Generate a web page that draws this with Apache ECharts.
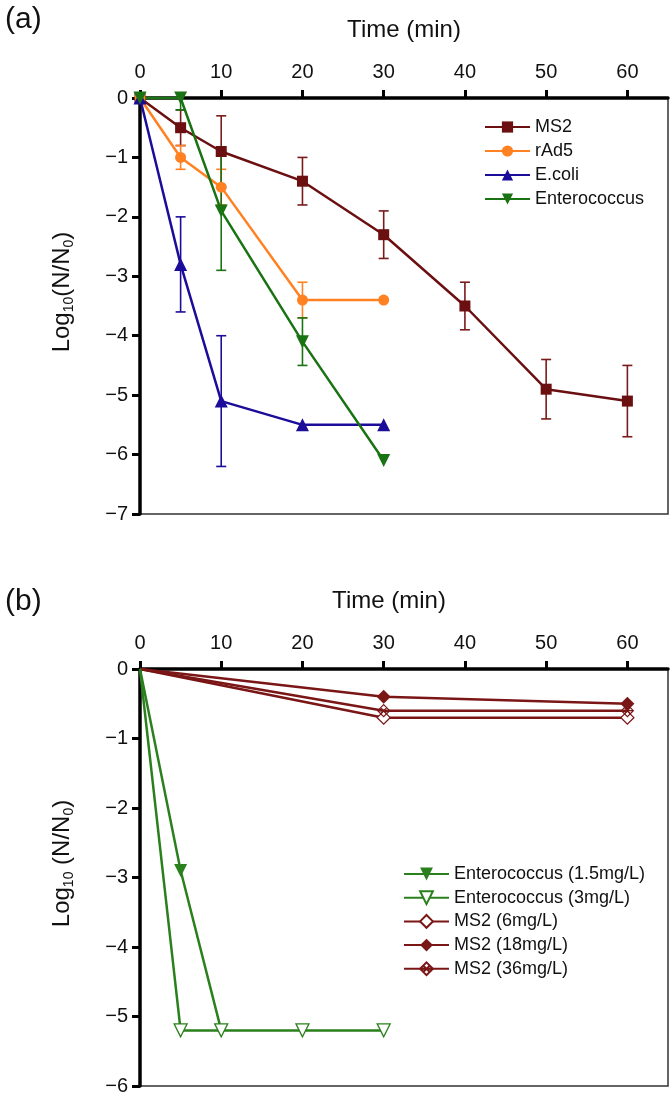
<!DOCTYPE html>
<html>
<head>
<meta charset="utf-8">
<script src="https://cdn.jsdelivr.net/npm/echarts@6/dist/echarts.min.js"></script>
<style>
html,body{margin:0;padding:0;background:#fff;}
#chart{width:672px;height:1096px;}
</style>
</head>
<body>
<div id="chart"></div>
<script>
// ---------- axis ticks ----------
const xTicks = [0, 10, 20, 30, 40, 50, 60];
const yTicksA = [0, -1, -2, -3, -4, -5, -6, -7];
const yTicksB = [0, -1, -2, -3, -4, -5, -6];

// ---------- Panel (a) data ----------
const ms2Time = [0, 5, 10, 20, 30, 40, 50, 60];
const ms2Log  = [0, -0.5, -0.9, -1.4, -2.3, -3.5, -4.9, -5.1];
const ms2Err  = [0, 0.3, 0.6, 0.4, 0.4, 0.4, 0.5, 0.6];

const rad5Time = [0, 5, 10, 20, 30];
const rad5Log  = [0, -1.0, -1.5, -3.4, -3.4];
const rad5Err  = [0, 0.2, 0.3, 0.3, 0];

const ecoliTime = [0, 5, 10, 20, 30];
const ecoliLog  = [0, -2.8, -5.1, -5.5, -5.5];
const ecoliErr  = [0, 0.8, 1.1, 0, 0];

const entTime = [0, 5, 10, 20, 30];
const entLog  = [0, 0, -1.9, -4.1, -6.1];
const entErr  = [0, 0.2, 1.0, 0.4, 0];

// ---------- Panel (b) data ----------
const ent15Time = [0, 5, 10];
const ent15Log  = [0, -2.9, -5.2];
const ent3Time  = [0, 5, 10, 20, 30];
const ent3Log   = [0, -5.2, -5.2, -5.2, -5.2];
const ms2bTime  = [0, 30, 60];
const ms2_6Log  = [0, -0.7, -0.7];
const ms2_18Log = [0, -0.4, -0.5];
const ms2_36Log = [0, -0.6, -0.6];

const namesA = ['MS2', 'rAd5', 'E.coli', 'Enterococcus'];
const namesB = ['Enterococcus (1.5mg/L)', 'Enterococcus (3mg/L)', 'MS2 (6mg/L)', 'MS2 (18mg/L)', 'MS2 (36mg/L)'];

// ---------- styling ----------
const FONT = '"Liberation Sans", Arial, sans-serif';
const C_MS2 = '#6b0f10';
const C_RAD = '#ff8122';
const C_ECO = '#1c0c9a';
const C_ENT = '#1a7312';
const C_GB = '#2a801c';
const C_RB = '#7b1616';

function pts(t, v, hideZero) {
  return t.map((x, i) => (hideZero && x === 0) ? { value: [x, v[i]], symbol: 'none' } : [x, v[i]]);
}
function errPts(t, v, e) { return t.map((x, i) => [x, v[i], e[i]]).filter(d => d[2] > 0); }

function lineSeries(name, t, v, color, symbol, size, extra, gi) {
  return Object.assign({
    name: name, type: 'line', xAxisIndex: gi, yAxisIndex: gi,
    data: pts(t, v, gi === 1), symbol: symbol, symbolSize: size, showAllSymbol: true,
    clip: false, z: 5,
    lineStyle: { color: color, width: 2.5 },
    itemStyle: { color: color, borderColor: color, borderWidth: 0 },
    emphasis: { disabled: true }, animation: false
  }, extra || {});
}

function errSeries(name, t, v, e, color, gi) {
  return {
    name: name, type: 'custom', xAxisIndex: gi, yAxisIndex: gi,
    data: errPts(t, v, e), encode: { x: 0, y: 1 }, clip: true, z: 4,
    silent: true, animation: false,
    renderItem: function (params, api) {
      const x = api.value(0), y = api.value(1), er = api.value(2);
      const p1 = api.coord([x, y + er]);
      const p2 = api.coord([x, y - er]);
      const w = 5;
      const st = { stroke: color, lineWidth: 1.6, fill: null };
      return {
        type: 'group', children: [
          { type: 'line', shape: { x1: p1[0], y1: p1[1], x2: p2[0], y2: p2[1] }, style: st },
          { type: 'line', shape: { x1: p1[0] - w, y1: p1[1], x2: p1[0] + w, y2: p1[1] }, style: st },
          { type: 'line', shape: { x1: p2[0] - w, y1: p2[1], x2: p2[0] + w, y2: p2[1] }, style: st }
        ]
      };
    }
  };
}

function minusFmt(v) { return v < 0 ? '\u2212' + Math.abs(v) : String(v); }

const xAxisBase = {
  type: 'value', position: 'top', min: 0, max: 65, interval: 10,
  name: 'Time (min)', nameLocation: 'middle', nameGap: 56,
  nameTextStyle: { fontFamily: FONT, fontSize: 24, color: '#111' },
  axisLine: { show: true, lineStyle: { color: '#000', width: 3.5 } },
  axisTick: { show: true, length: 8, lineStyle: { color: '#000', width: 3 }, customValues: xTicks },
  axisLabel: { fontFamily: FONT, fontSize: 20, color: '#111', margin: 16, customValues: xTicks },
  splitLine: { show: false }
};

const yRich = {
  m: { fontFamily: FONT, fontSize: 24, color: '#111' },
  s: { fontFamily: FONT, fontSize: 14, color: '#111', padding: [14, 0, 0, 0] }
};

function yAxis(gi, min, ticks, name, pad) {
  return {
    type: 'value', gridIndex: gi, min: min, max: 0, interval: 1,
    name: name, nameLocation: 'middle', nameGap: 64, nameRotate: 90,
    nameTextStyle: { fontFamily: FONT, fontSize: 24, color: '#111', rich: yRich, padding: pad },
    axisLine: { show: true, onZero: false, lineStyle: { color: '#000', width: 3.5 } },
    axisTick: { show: true, length: 8, lineStyle: { color: '#000', width: 3 }, customValues: ticks },
    axisLabel: { fontFamily: FONT, fontSize: 20, color: '#111', margin: 12, customValues: ticks, formatter: minusFmt },
    splitLine: { show: false }
  };
}

// Crossed diamond symbol for MS2 (36mg/L)
const xDiamond = 'path://M5,0 L10,5 L5,10 L0,5 Z M2.5,2.5 L7.5,7.5 M7.5,2.5 L2.5,7.5 M0,5 L10,5';

const option = {
  backgroundColor: '#fff',
  animation: false,
  title: [
    { text: '(a)', left: 0, top: 0, textStyle: { fontFamily: FONT, fontSize: 30, fontWeight: 'normal', color: '#111' } },
    { text: '(b)', left: 0, top: 582, textStyle: { fontFamily: FONT, fontSize: 30, fontWeight: 'normal', color: '#111' } }
  ],
  grid: [
    { left: 140, top: 98, width: 528, height: 416, show: true, borderColor: '#333', borderWidth: 1.5, backgroundColor: 'transparent' },
    { left: 140, top: 669, width: 528, height: 418, show: true, borderColor: '#333', borderWidth: 1.5, backgroundColor: 'transparent' }
  ],
  xAxis: [
    Object.assign({}, xAxisBase, { gridIndex: 0 }),
    Object.assign({}, xAxisBase, { gridIndex: 1, nameTextStyle: { fontFamily: FONT, fontSize: 24, color: '#111', padding: [0, 30, 0, 0] } })
  ],
  yAxis: [
    yAxis(0, -7, yTicksA, '{m|Log}{s|10}{m|(N/N}{s|0}{m|)}', [0, 0, 0, 28]),
    yAxis(1, -6, yTicksB, '{m|Log}{s|10}{m| (N/N}{s|0}{m|)}', [0, 0, 0, 28])
  ],
  legend: [
    {
      data: namesA, orient: 'vertical', left: 484, top: 118, padding: 0,
      itemWidth: 45, itemHeight: 14, itemGap: 6,
      textStyle: { fontFamily: FONT, fontSize: 18, color: '#111', lineHeight: 18 },
      selectedMode: false
    },
    {
      data: namesB, orient: 'vertical', left: 403, top: 865, padding: 0,
      itemWidth: 45, itemHeight: 16, itemGap: 5.7,
      textStyle: { fontFamily: FONT, fontSize: 18, color: '#111', lineHeight: 18 },
      selectedMode: false
    }
  ],
  series: [
    errSeries('MS2 err', ms2Time, ms2Log, ms2Err, '#7a1a1a', 0),
    errSeries('rAd5 err', rad5Time, rad5Log, rad5Err, C_RAD, 0),
    errSeries('E.coli err', ecoliTime, ecoliLog, ecoliErr, C_ECO, 0),
    errSeries('Ent err', entTime, entLog, entErr, C_ENT, 0),
    lineSeries('MS2', ms2Time, ms2Log, C_MS2, 'rect', 11, null, 0),
    lineSeries('rAd5', rad5Time, rad5Log, C_RAD, 'circle', 11, null, 0),
    lineSeries('E.coli', ecoliTime, ecoliLog, C_ECO, 'triangle', 13, null, 0),
    lineSeries('Enterococcus', entTime, entLog, C_ENT, 'triangle', 13, { symbolRotate: 180 }, 0),

    lineSeries('MS2 (6mg/L)', ms2bTime, ms2_6Log, C_RB, 'diamond', 13,
      { itemStyle: { color: '#fff', borderColor: C_RB, borderWidth: 1.3 } }, 1),
    lineSeries('MS2 (36mg/L)', ms2bTime, ms2_36Log, C_RB, xDiamond, 12,
      { itemStyle: { color: 'rgba(255,255,255,0)', borderColor: C_RB, borderWidth: 1.2 } }, 1),
    lineSeries('MS2 (18mg/L)', ms2bTime, ms2_18Log, C_RB, 'diamond', 14, null, 1),
    lineSeries('Enterococcus (1.5mg/L)', ent15Time, ent15Log, C_GB, 'triangle', 13, { symbolRotate: 180 }, 1),
    lineSeries('Enterococcus (3mg/L)', ent3Time, ent3Log, C_GB, 'triangle', 13,
      { symbolRotate: 180, itemStyle: { color: '#fff', borderColor: C_GB, borderWidth: 1.3 } }, 1)
  ]
};

const chart = echarts.init(document.getElementById('chart'), null, { renderer: 'canvas' });
chart.setOption(option);
</script>
</body>
</html>
